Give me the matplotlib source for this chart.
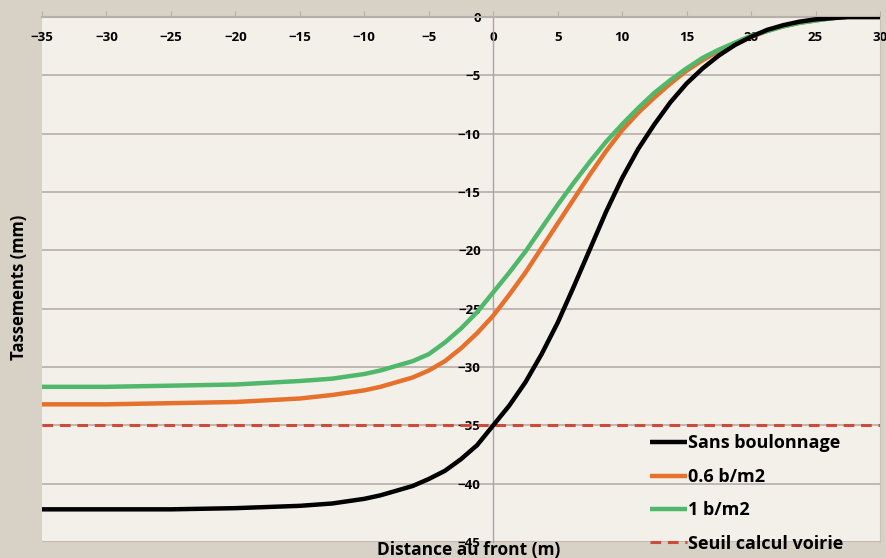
import numpy as np
import matplotlib.pyplot as plt

plt.rcParams['font.family'] = ['Open Sans', 'DejaVu Sans']

# distance to the tunnel face (m)
distance = [-35, -30, -25, -20, -15, -12.5, -10, -8.75, -7.5, -6.25, -5, -3.75,
            -2.5, -1.25, 0, 1.25, 2.5, 3.75, 5, 6.25, 7.5, 8.75, 10, 11.25,
            12.5, 13.75, 15, 16.25, 17.5, 18.75, 20, 21.25, 22.5, 23.75, 25,
            26.25, 27.5, 30]

# settlements (mm)
sans_boulonnage = [-42.2, -42.2, -42.2, -42.1, -41.9, -41.7, -41.3, -41.0, -40.6,
                   -40.2, -39.6, -38.9, -37.9, -36.7, -35.0, -33.3, -31.3, -28.9,
                   -26.2, -23.1, -19.9, -16.7, -13.8, -11.3, -9.2, -7.3, -5.7,
                   -4.4, -3.3, -2.4, -1.7, -1.1, -0.7, -0.4, -0.2, -0.1, 0.0, 0.0]
b_06 = [-33.2, -33.2, -33.1, -33.0, -32.7, -32.4, -32.0, -31.7, -31.3, -30.9,
        -30.3, -29.5, -28.4, -27.1, -25.6, -23.8, -21.9, -19.8, -17.7, -15.6,
        -13.5, -11.5, -9.7, -8.2, -6.9, -5.7, -4.6, -3.7, -2.9, -2.3, -1.7,
        -1.2, -0.8, -0.5, -0.3, -0.1, 0.0, 0.0]
b_1 = [-31.7, -31.7, -31.6, -31.5, -31.2, -31.0, -30.6, -30.3, -29.9, -29.5,
       -28.9, -27.9, -26.7, -25.3, -23.6, -21.9, -20.1, -18.1, -16.1, -14.2,
       -12.4, -10.7, -9.2, -7.8, -6.5, -5.4, -4.4, -3.5, -2.8, -2.2, -1.6,
       -1.2, -0.8, -0.5, -0.3, -0.1, 0.0, 0.0]
seuil = -35

labels = ['Sans boulonnage', '0.6 b/m2', '1 b/m2', 'Seuil calcul voirie']
colors = ['#000000', '#e5712d', '#4fb86a', '#cc4b3a']

fig = plt.figure(figsize=(8.87, 5.58), dpi=100, facecolor='#d7d1c6')
ax = fig.add_axes([42 / 887, 1 - 542 / 558, 838 / 887, 525 / 558])
ax.set_facecolor('#f3f0ea')

ax.plot(distance, sans_boulonnage, color=colors[0], lw=3.2, label=labels[0],
        solid_capstyle='butt', zorder=4)
ax.plot(distance, b_06, color=colors[1], lw=3.2, label=labels[1],
        solid_capstyle='butt', zorder=3)
ax.plot(distance, b_1, color=colors[2], lw=3.2, label=labels[2],
        solid_capstyle='butt', zorder=3)
ax.axhline(seuil, color=colors[3], lw=2.2, ls=(0, (3.5, 2.2)), label=labels[3],
           zorder=2)

ax.set_xlim(-35, 30)
ax.set_ylim(-45, 0)
ax.set_xticks(np.arange(-35, 31, 5))
ax.set_yticks(np.arange(-45, 1, 5))

ax.spines['bottom'].set_position(('data', 0))
ax.spines['left'].set_position(('data', 0))
ax.spines['bottom'].set_color('#b9afa9')
ax.spines['bottom'].set_linewidth(1.5)
ax.spines['left'].set_color('#ada3a0')
ax.spines['left'].set_linewidth(1.0)
ax.spines['top'].set_visible(False)
ax.spines['right'].set_color('#c9c2b8')

ax.yaxis.grid(True, color='#bdb3ae', lw=1.3)
ax.set_axisbelow(True)

ax.tick_params(axis='x', direction='in', length=4, color='#b9afa9', pad=10,
               labelsize=9.5)
ax.tick_params(axis='y', length=0, pad=9, labelsize=9.5)
for t in ax.get_xticklabels() + ax.get_yticklabels():
    t.set_fontweight('bold')
    t.set_clip_on(False)

fig.text(469 / 887, 1 - 550 / 558, 'Distance au front (m)', ha='center',
         va='center', fontsize=12.5, fontweight='bold')
fig.text(19 / 887, 1 - 287 / 558, 'Tassements (mm)', ha='center', va='center',
         rotation=90, fontsize=12, fontweight='bold')

leg = ax.legend(loc='lower right', bbox_to_anchor=(0.976, -0.051), frameon=False,
                handlelength=2.0, handletextpad=0.1, labelspacing=0.85,
                prop={'weight': 'bold', 'size': 13})

fig.savefig('out.png', dpi=100, facecolor=fig.get_facecolor())
